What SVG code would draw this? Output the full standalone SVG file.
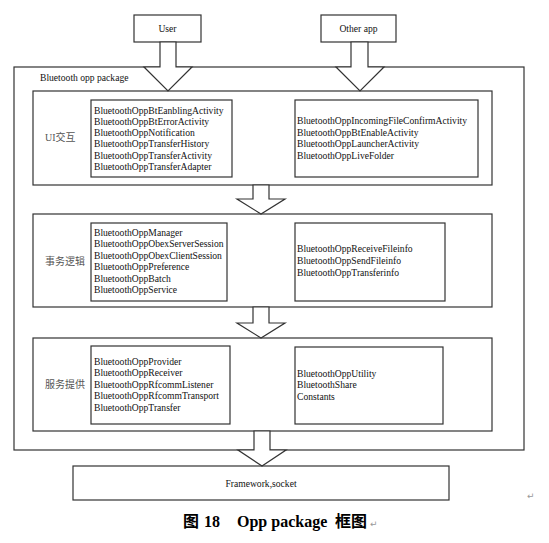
<svg xmlns="http://www.w3.org/2000/svg" width="549" height="543" viewBox="0 0 549 543">
<style>
.box{fill:#fff;stroke:#333;stroke-width:1.2}
.frame{fill:none;stroke:#333;stroke-width:1.2}
.arrow{fill:#fff;stroke:#333;stroke-width:1.2;stroke-linejoin:miter}
.t{font-family:"Liberation Serif","Noto Sans CJK SC",serif;font-size:9.6px;fill:#111}
.c{text-anchor:middle}
.lab{font-family:"Liberation Serif","Noto Sans CJK SC",serif;font-size:10px;fill:#555}
.cap{font-family:"Liberation Serif","Noto Sans CJK SC",serif;font-size:16px;font-weight:bold;fill:#000}
.mark{font-family:"DejaVu Sans",sans-serif;font-size:9px;fill:#999}
</style>
<rect width="549" height="543" fill="#fff"/>

<g id="user">
<rect class="box" x="134" y="15" width="67" height="27"/>
<text class="t c" x="167.5" y="32">User</text>
</g>
<g id="otherapp">
<rect class="box" x="321" y="15" width="75" height="27"/>
<text class="t c" x="358.5" y="32">Other app</text>
</g>

<g id="package">
<rect class="frame" x="14" y="67" width="510" height="383"/>
<text class="t" x="40" y="81">Bluetooth opp package</text>
</g>

<g id="ui">
<rect class="frame" x="33" y="91" width="459" height="94"/>
<text class="lab" x="45" y="141">UI交互</text>
<rect class="box" x="91" y="100" width="141" height="77"/>
<text class="t" x="94" y="113.5">BluetoothOppBtEanblingActivity</text>
<text class="t" x="94" y="124.8">BluetoothOppBtErrorActivity</text>
<text class="t" x="94" y="136.1">BluetoothOppNotification</text>
<text class="t" x="94" y="147.4">BluetoothOppTransferHistory</text>
<text class="t" x="94" y="158.7">BluetoothOppTransferActivity</text>
<text class="t" x="94" y="170">BluetoothOppTransferAdapter</text>
<rect class="box" x="295" y="100" width="183" height="77"/>
<text class="t" x="297" y="124">BluetoothOppIncomingFileConfirmActivity</text>
<text class="t" x="297" y="135.5">BluetoothOppBtEnableActivity</text>
<text class="t" x="297" y="147">BluetoothOppLauncherActivity</text>
<text class="t" x="297" y="158.5">BluetoothOppLiveFolder</text>
</g>

<g id="logic">
<rect class="frame" x="33" y="214" width="459" height="93"/>
<text class="lab" x="45" y="265">事务逻辑</text>
<rect class="box" x="91" y="223" width="136" height="78"/>
<text class="t" x="94" y="235.5">BluetoothOppManager</text>
<text class="t" x="94" y="247">BluetoothOppObexServerSession</text>
<text class="t" x="94" y="258.5">BluetoothOppObexClientSession</text>
<text class="t" x="94" y="270">BluetoothOppPreference</text>
<text class="t" x="94" y="281.5">BluetoothOppBatch</text>
<text class="t" x="94" y="293">BluetoothOppService</text>
<rect class="box" x="295" y="223" width="150" height="78"/>
<text class="t" x="297" y="251.5">BluetoothOppReceiveFileinfo</text>
<text class="t" x="297" y="263.5">BluetoothOppSendFileinfo</text>
<text class="t" x="297" y="275.5">BluetoothOppTransferinfo</text>
</g>

<g id="service">
<rect class="frame" x="33" y="338" width="459" height="93"/>
<text class="lab" x="45" y="388">服务提供</text>
<rect class="box" x="91" y="346" width="139" height="78"/>
<text class="t" x="94" y="365">BluetoothOppProvider</text>
<text class="t" x="94" y="376.4">BluetoothOppReceiver</text>
<text class="t" x="94" y="387.8">BluetoothOppRfcommListener</text>
<text class="t" x="94" y="399.2">BluetoothOppRfcommTransport</text>
<text class="t" x="94" y="410.6">BluetoothOppTransfer</text>
<rect class="box" x="295" y="347" width="148" height="77"/>
<text class="t" x="297" y="376.5">BluetoothOppUtility</text>
<text class="t" x="297" y="388">BluetoothShare</text>
<text class="t" x="297" y="399.5">Constants</text>
</g>

<g id="framework">
<rect class="box" x="73" y="466" width="376" height="34"/>
<text class="t c" x="261" y="487">Framework,socket</text>
</g>

<g id="connectors">
<polygon class="arrow" points="160,42 176,42 176,67 192,67 168,91 144,67 160,67"/>
<polygon class="arrow" points="351,42 368,42 368,67 384,67 360,91 336,67 351,67"/>
<polygon class="arrow" points="253,185 269,185 269,199 285,199 261,214 237,199 253,199"/>
<polygon class="arrow" points="253,307 269,307 269,323 285,323 261,338 237,323 253,323"/>
<polygon class="arrow" points="254,431 270,431 270,450 286,450 262,466 238,450 254,450"/>
</g>

<g id="caption">
<text class="cap" y="527"><tspan x="183">图</tspan><tspan x="204">18</tspan><tspan x="237">Opp package</tspan><tspan x="335">框图</tspan></text>
<text class="mark" x="370" y="527">↵</text>
<text class="mark" x="527" y="499">↵</text>
</g>
</svg>
